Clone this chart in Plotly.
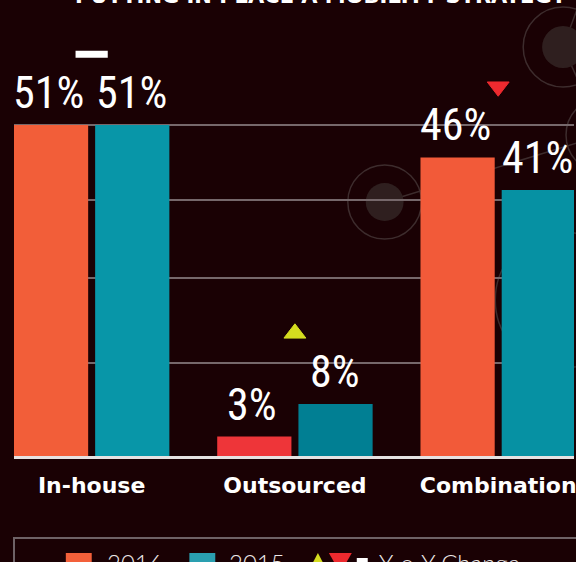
import plotly.graph_objects as go

# ---------------- data ----------------
categories = ["In-house", "Outsourced", "Combination"]
values_2016 = [51, 3, 46]
values_2015 = [51, 8, 41]
yoy_change = ["same", "up", "down"]          # marker shown above each group
grid_levels = [14.4, 27.5, 39.5, 51.0]       # decorative horizontal rules (%)
title_text = "PUTTING IN PLACE A MOBILITY STRATEGY"
legend_labels = ["2016", "2015", "Y-o-Y Change"]

# ---------------- layout constants ----------------
W, H = 576, 562
ML, MR, MT, MB = 14, 0, 0, 106
PW, PH = W - ML - MR, H - MT - MB
PX_PER_PCT = 6.49
PX_PER_CAT = 204.0
y_top = PH / PX_PER_PCT
x_lo = -0.382
x_hi = x_lo + PW / PX_PER_CAT

BG = "#1A0104"
GRID = "#76686B"
DECO_LINE = "#3D2C2D"
DECO_FILL = "#2F1F1F"


def px2paper(x, y):
    return (x - ML) / PW, (H - MB - y) / PH


def lerp(c1, c2, t):
    return tuple(a + (b - a) * t for a, b in zip(c1, c2))


def grad(stops, t):
    for (t0, c0), (t1, c1) in zip(stops, stops[1:]):
        if t <= t1:
            return lerp(c0, c1, (t - t0) / (t1 - t0))
    return stops[-1][1]


def hexc(c):
    return "#%02X%02X%02X" % tuple(int(round(v)) for v in c)


STOPS_2016 = [(0, (238, 50, 57)), (1, (247, 138, 57))]
STOPS_2015 = [(0, (0, 123, 143)), (0.5, (8, 150, 168)), (1, (61, 169, 184))]
GRAD_TOP = max(values_2016 + values_2015)

cols_2016 = [hexc(grad(STOPS_2016, (v / 2) / GRAD_TOP)) for v in values_2016]
cols_2015 = [hexc(grad(STOPS_2015, (v / 2) / GRAD_TOP)) for v in values_2015]

fig = go.Figure()
fig.add_trace(go.Bar(name="2016", x=categories, y=values_2016,
                     marker=dict(color=cols_2016, line=dict(width=0)),
                     hoverinfo="skip"))
fig.add_trace(go.Bar(name="2015", x=categories, y=values_2015,
                     marker=dict(color=cols_2015, line=dict(width=0)),
                     hoverinfo="skip"))

# Y-o-Y change markers
sym_map = {"same": "line-ew", "up": "triangle-up", "down": "triangle-down"}
col_map = {"same": "#FFFFFF", "up": "#D5DC1F", "down": "#EE2A2F"}
size_map = {"same": 23, "up": 19, "down": 19}
lw_map = {"same": 7, "up": 1, "down": 1}
MARK_PAD = 10.9
marker_y = [max(a, b) + MARK_PAD for a, b in zip(values_2016, values_2015)]
fig.add_trace(go.Scatter(
    x=categories, y=marker_y, mode="markers", hoverinfo="skip", opacity=1,
    marker=dict(symbol=[sym_map[c] for c in yoy_change],
                color=[col_map[c] for c in yoy_change],
                size=[size_map[c] for c in yoy_change], opacity=1,
                line=dict(color=[col_map[c] for c in yoy_change],
                          width=[lw_map[c] for c in yoy_change]))))

annotations = []
LABEL_FONT = dict(family="Roboto Condensed, Liberation Sans Narrow, Roboto, sans-serif",
                  size=44, color="#FFFFFF", weight=400)
BAR_OFF = 40.75
for cat, a, b in zip(categories, values_2016, values_2015):
    annotations.append(dict(x=cat, y=a, xref="x", yref="y", text=f"{a}%",
                            showarrow=False, xshift=-BAR_OFF - 2, yshift=4,
                            yanchor="bottom", font=LABEL_FONT))
    annotations.append(dict(x=cat, y=b, xref="x", yref="y", text=f"{b}%",
                            showarrow=False, xshift=BAR_OFF - 1, yshift=4,
                            yanchor="bottom", font=LABEL_FONT))

# cropped title at the very top
tx, ty = px2paper(322, 10)
annotations.append(dict(x=tx, y=ty, xref="paper", yref="paper", text=title_text,
                        showarrow=False, xanchor="center", yanchor="bottom",
                        font=dict(family="DejaVu Sans", size=21, color="#FFFFFF",
                                  weight="bold")))

shapes = []


def circle(cx, cy, r, **kw):
    x0, y0 = px2paper(cx - r, cy + r)
    x1, y1 = px2paper(cx + r, cy - r)
    return dict(type="circle", xref="paper", yref="paper", x0=x0, y0=y0,
                x1=x1, y1=y1, layer="below", **kw)


def seg(xa, ya, xb, yb, color, width, layer="below"):
    x0, y0 = px2paper(xa, ya)
    x1, y1 = px2paper(xb, yb)
    return dict(type="line", xref="paper", yref="paper", x0=x0, y0=y0,
                x1=x1, y1=y1, layer=layer, line=dict(color=color, width=width))


# decorative network of circles
shapes.append(seg(386, 202, 605, 135, DECO_LINE, 1.5))
shapes.append(seg(565, 47, 605, 135, DECO_LINE, 1.5))
shapes.append(seg(565, 47, 590, -20, DECO_LINE, 1.5))
for cx, cy, r in [(386, 202, 37), (565, 47, 40), (606, 135, 38), (565, 300, 68)]:
    shapes.append(circle(cx, cy, r, line=dict(color=DECO_LINE, width=1.5),
                         fillcolor="rgba(0,0,0,0)"))
for cx, cy, r in [(386, 202, 19), (565, 47, 21)]:
    shapes.append(circle(cx, cy, r, line=dict(width=0), fillcolor=DECO_FILL))


# legend (custom, cropped at bottom)
def rect(xa, ya, xb, yb, **kw):
    x0, y0 = px2paper(xa, yb)
    x1, y1 = px2paper(xb, ya)
    return dict(type="rect", xref="paper", yref="paper", x0=x0, y0=y0,
                x1=x1, y1=y1, layer="above", **kw)


def path(points, color):
    pts = [px2paper(x, y) for x, y in points]
    d = "M" + " L".join(f"{x:.5f},{y:.5f}" for x, y in pts) + " Z"
    return dict(type="path", xref="paper", yref="paper", path=d, layer="above",
                fillcolor=color, line=dict(width=0))


shapes.append(rect(14, 538, 600, 620, line=dict(color="#6E6266", width=2),
                   fillcolor="rgba(0,0,0,0)"))
shapes.append(rect(66, 553, 92, 579, line=dict(width=0), fillcolor="#F3603A"))
shapes.append(rect(190, 553, 216, 579, line=dict(width=0), fillcolor="#2A9FB0"))
shapes.append(path([(309, 572), (329, 572), (319, 553)], "#D5DC1F"))
shapes.append(path([(330, 553), (353, 553), (341.5, 573)], "#EE2A2F"))
shapes.append(rect(358, 558, 369, 565, line=dict(width=0), fillcolor="#FFFFFF"))

LEG_FONT = dict(family="Lato, sans-serif", size=24, color="#EDE8E8", weight=300)
for lbl, xp in zip(legend_labels, [105, 228, 378]):
    lx, ly = px2paper(xp, 562)
    annotations.append(dict(x=lx, y=ly, xref="paper", yref="paper", text=lbl,
                            showarrow=False, xanchor="left", yanchor="middle",
                            font=LEG_FONT))

fig.update_layout(
    width=W, height=H,
    margin=dict(l=ML, r=MR, t=MT, b=MB, pad=0),
    paper_bgcolor=BG, plot_bgcolor=BG,
    barmode="group", bargap=0.201, bargroupgap=0.086,
    showlegend=False,
    xaxis=dict(range=[x_lo, x_hi], showgrid=False, zeroline=False,
               showline=True, linecolor="#E6E2E2", linewidth=2.5,
               ticks="", ticklabelstandoff=8,
               tickfont=dict(family="DejaVu Sans", size=22, color="#FFFFFF",
                             weight="bold"),
               fixedrange=True),
    yaxis=dict(range=[0, y_top], tickmode="array", tickvals=grid_levels,
               showticklabels=False, showgrid=True, gridcolor=GRID,
               gridwidth=2, zeroline=False, showline=False, fixedrange=True),
    shapes=shapes,
    annotations=annotations,
)

fig.write_html("out.html")
